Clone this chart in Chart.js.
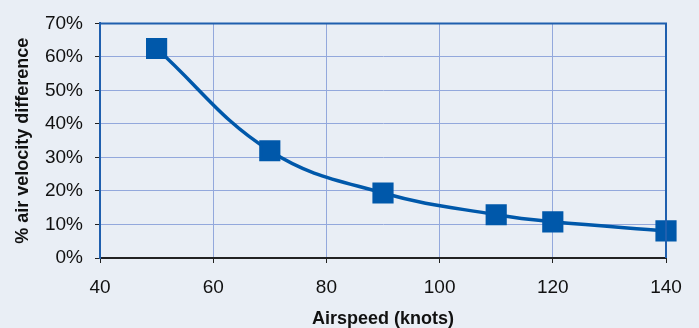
<!DOCTYPE html>
<html>
<head>
<meta charset="utf-8">
<script src="https://cdn.jsdelivr.net/npm/chart.js@4"></script>
<style>
  body { margin: 0; background: #e9eef5; }
  #wrap { width: 699px; height: 328px; }
</style>
</head>
<body>
<div id="wrap"><canvas id="airChart" width="699" height="328"></canvas></div>
<script>
  // values
  var airspeed = [50, 70, 90, 110, 120, 140];
  var velocityDiff = [0.625, 0.32, 0.194, 0.129, 0.108, 0.081];
  var xTitle = 'Airspeed (knots)';
  var yTitle = '% air velocity difference';

  var points = airspeed.map(function (x, i) {
    return { x: x, y: velocityDiff[i] };
  });

  // top and right edges of the plot frame
  var framePlugin = {
    id: 'frame',
    afterDraw: function (chart) {
      var a = chart.chartArea;
      var ctx = chart.ctx;
      ctx.save();
      ctx.strokeStyle = '#1f5fae';
      ctx.lineWidth = 2;
      ctx.beginPath();
      ctx.moveTo(a.left, a.top);
      ctx.lineTo(a.right, a.top);
      ctx.lineTo(a.right, a.bottom);
      ctx.stroke();
      ctx.restore();
    }
  };

  var ctx = document.getElementById('airChart').getContext('2d');
  new Chart(ctx, {
    type: 'line',
    data: {
      datasets: [{
        data: points,
        borderColor: '#0058aa',
        backgroundColor: '#0058aa',
        borderWidth: 3.5,
        pointStyle: 'rect',
        pointRadius: 12.5,
        pointHoverRadius: 12.5,
        tension: 0.4,
        clip: false
      }]
    },
    options: {
      responsive: false,
      animation: false,
      layout: { padding: { top: 19, right: 33, left: 0, bottom: 0 } },
      plugins: {
        legend: { display: false },
        tooltip: { enabled: false }
      },
      scales: {
        x: {
          type: 'linear',
          min: 40,
          max: 140,
          afterFit: function (s) { s.height = 70; },
          ticks: {
            stepSize: 20,
            color: '#111',
            padding: 13,
            font: { family: 'Liberation Sans', size: 19 }
          },
          grid: { color: '#93a8dc', lineWidth: 1, tickColor: '#222', tickLength: 5 },
          border: { color: '#222', width: 2 },
          title: {
            display: true,
            text: xTitle,
            color: '#111',
            padding: { top: 0, bottom: 0 },
            font: { family: 'Liberation Sans', size: 18, weight: 'bold', lineHeight: 1.0 }
          }
        },
        y: {
          min: 0,
          max: 0.7,
          afterFit: function (s) { s.width = 100; },
          ticks: {
            stepSize: 0.1,
            color: '#111',
            padding: 12,
            font: { family: 'Liberation Sans', size: 19 },
            callback: function (v) { return Math.round(v * 100) + '%'; }
          },
          grid: { color: '#93a8dc', lineWidth: 1, tickColor: '#222', tickLength: 5 },
          border: { color: '#1f5fae', width: 2 },
          title: {
            display: true,
            text: yTitle,
            color: '#111',
            padding: { top: 14, bottom: 0 },
            font: { family: 'Liberation Sans', size: 18, weight: 'bold', lineHeight: 1.0 }
          }
        }
      }
    },
    plugins: [framePlugin]
  });
</script>
</body>
</html>
